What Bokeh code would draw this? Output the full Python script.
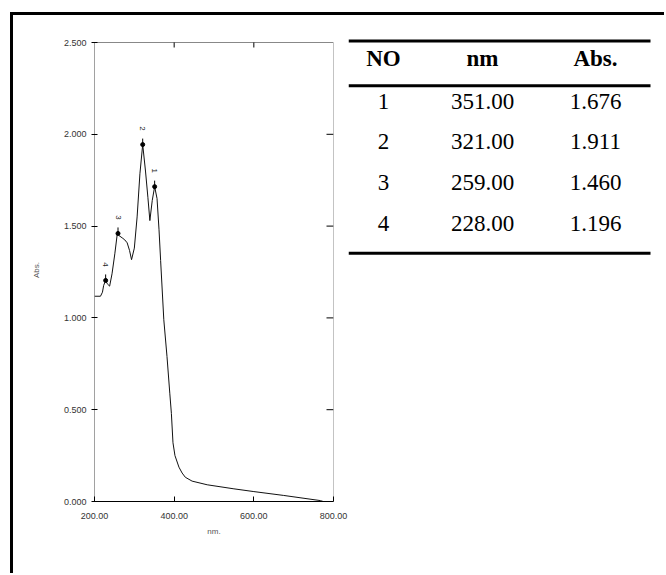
import numpy as np
from bokeh.plotting import figure
from bokeh.layouts import row, column, Spacer
from bokeh.models import Range1d, FixedTicker, LinearAxis, PrintfTickFormatter, Div
from bokeh.core.properties import value
from bokeh.embed import file_html
from bokeh.resources import INLINE

# ---- data ----
wavelength = [200, 215, 220, 223, 228, 232, 238, 244, 251, 257, 259, 261, 269.5, 276,
              282, 288, 293, 300, 307, 314, 321, 328, 334, 339, 345, 351, 357, 362,
              366, 374, 382, 389, 393, 397, 402, 412, 420, 428, 445, 483, 550, 600,
              675, 767, 774]
absorbance = [1.118, 1.118, 1.14, 1.177, 1.204, 1.186, 1.173, 1.24, 1.349, 1.455, 1.46,
              1.449, 1.436, 1.425, 1.409, 1.367, 1.317, 1.38, 1.55, 1.785, 1.944, 1.80,
              1.657, 1.53, 1.64, 1.715, 1.65, 1.48, 1.313, 0.99, 0.79, 0.59, 0.48, 0.32,
              0.25, 0.187, 0.155, 0.132, 0.111, 0.091, 0.069, 0.054, 0.033, 0.005, 0.0]

peak_no = ["1", "2", "3", "4"]
peak_nm = [351.00, 321.00, 259.00, 228.00]
peak_abs = [1.676, 1.911, 1.460, 1.196]

x_ticks = [200, 400, 600, 800]
y_ticks = [0.0, 0.5, 1.0, 1.5, 2.0, 2.5]
table_header = ["NO", "nm", "Abs."]

SANS = "Liberation Sans"
SERIF = "Liberation Serif"

# ---- layout constants (pixels) ----
FRAME_W = 239
FRAME_H = 463          # frame extends 4px above the 2.500 line
TOP_B = 23
BOT_B = 72
FIG_H = TOP_B + FRAME_H + BOT_B
X_MIN, X_MAX = 200, 800
Y_MIN, Y_MAX = 0.0, 2.5
px_per_y = (FRAME_H - 4) / (Y_MAX - Y_MIN)
px_per_x = FRAME_W / (X_MAX - X_MIN)
y_top = Y_MAX + 4 / px_per_y

# ---- spectrum figure ----
p1 = figure(width=335, height=FIG_H, output_backend="svg", toolbar_location=None,
            x_range=Range1d(X_MIN, X_MAX), y_range=Range1d(Y_MIN, y_top),
            min_border_left=81, min_border_right=15, min_border_top=TOP_B,
            min_border_bottom=BOT_B, x_axis_location=None, y_axis_location=None)
p1.xgrid.visible = False
p1.ygrid.visible = False
p1.outline_line_color = None

def style_axis(ax, ticks, fmt, line_color):
    ax.ticker = FixedTicker(ticks=ticks)
    ax.formatter = PrintfTickFormatter(format=fmt)
    ax.minor_tick_line_color = None
    ax.axis_line_color = line_color
    ax.major_tick_line_color = "black"
    ax.major_label_text_font = SANS
    ax.major_label_text_font_size = "9px"
    ax.major_label_text_color = "#333333"
    ax.axis_label_text_font = SANS
    ax.axis_label_text_font_size = "8px"
    ax.axis_label_text_font_style = "normal"
    ax.axis_label_text_color = "#555555"

left = LinearAxis(axis_label="Abs.")
style_axis(left, y_ticks, "%.3f", None)
left.major_tick_in = 3
left.major_tick_out = 3
left.major_label_standoff = 5
left.axis_label_standoff = 20
p1.add_layout(left, "left")

bottom = LinearAxis(axis_label="nm.")
style_axis(bottom, x_ticks, "%.2f", "black")
bottom.major_tick_in = 5
bottom.major_tick_out = 0
bottom.major_label_standoff = 11
bottom.axis_label_standoff = 5
p1.add_layout(bottom, "below")

# frame lines: left (dark), top and right (grey)
p1.segment(x0=[X_MIN], y0=[Y_MIN], x1=[X_MIN], y1=[Y_MAX], line_color="#444444", line_width=1)
p1.segment(x0=[X_MIN, X_MAX], y0=[Y_MAX, Y_MIN], x1=[X_MAX, X_MAX], y1=[Y_MAX, Y_MAX],
           line_color="#888888", line_width=1)
# inward ticks on top and right edges
top_t = x_ticks[1:3]
p1.segment(x0=top_t, y0=[Y_MAX] * len(top_t), x1=top_t,
           y1=[Y_MAX - 5 / px_per_y] * len(top_t), line_color="black", line_width=1)
right_t = y_ticks[1:5]
p1.segment(x0=[X_MAX] * len(right_t), y0=right_t, x1=[X_MAX - 7 / px_per_x] * len(right_t),
           y1=right_t, line_color="black", line_width=1)

p1.line(wavelength, absorbance, line_color="#111111", line_width=1)

marker_y = np.interp(peak_nm, wavelength, absorbance)
p1.segment(x0=peak_nm, y0=marker_y, x1=peak_nm, y1=marker_y + 6 / px_per_y,
           line_color="black", line_width=1)
p1.scatter(peak_nm, marker_y, size=4, color="black")
p1.text(x=peak_nm, y=marker_y, text=peak_no, angle=-np.pi / 2, y_offset=-16,
        text_align="center", text_baseline="middle",
        text_font=value(SANS), text_font_size="8px", text_color="#222222")

# ---- table figure (coordinates in page pixels) ----
P2_LEFT = 348
P2_W = 316
frame_top_page = 15 + TOP_B
frame_bot_page = frame_top_page + FRAME_H
p2 = figure(width=P2_W, height=FIG_H, output_backend="svg", toolbar_location=None,
            x_range=Range1d(P2_LEFT, P2_LEFT + P2_W),
            y_range=Range1d(frame_bot_page, frame_top_page),
            min_border_left=0, min_border_right=0, min_border_top=TOP_B,
            min_border_bottom=BOT_B, x_axis_location=None, y_axis_location=None)
p2.xgrid.visible = False
p2.ygrid.visible = False
p2.outline_line_color = None

col_x = [383, 482, 595]
rule_y = [40.5, 85.3, 252.7]
header_y = 58
row_y0 = 100.5
row_step = 40.9
p2.segment(x0=[P2_LEFT] * 3, x1=[650] * 3, y0=rule_y, y1=rule_y,
           line_color="black", line_width=3)
p2.text(x=col_x, y=[header_y] * 3, text=table_header,
        text_align="center", text_baseline="middle", text_font=value(SERIF),
        text_font_style="bold", text_font_size="23px", text_color="black")
rows_y = [row_y0 + i * row_step for i in range(len(peak_no))]
columns = [peak_no, [f"{v:.2f}" for v in peak_nm], [f"{v:.3f}" for v in peak_abs]]
for cx, texts in zip(col_x, columns):
    p2.text(x=[cx] * len(texts), y=rows_y, text=texts, text_align="center",
            text_baseline="middle", text_font=value(SERIF), text_font_size="23px",
            text_color="black")

# ---- picture border (left and top) ----
top_bar = Div(text="", width=654, height=3, margin=0, styles={"background-color": "black"})
left_bar = Div(text="", width=3, height=FIG_H, margin=0, styles={"background-color": "black"})

layout = column(Spacer(height=12),
                row(Spacer(width=10), top_bar),
                row(Spacer(width=10), left_bar, p1, p2))

open("out.html", "w").write(file_html(layout, INLINE))
